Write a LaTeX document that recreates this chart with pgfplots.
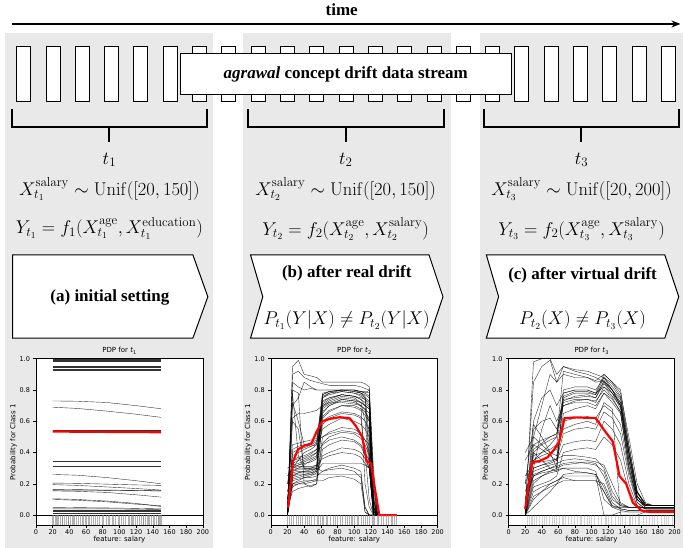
\RequirePackage{fix-cm}
\documentclass[border=0pt]{standalone}
\usepackage[no-math]{fontspec}
\setmainfont{Liberation Serif}[BoldFont={Liberation Serif Bold}, ItalicFont={Liberation Serif Italic}, BoldItalicFont={Liberation Serif Bold Italic}]
\newfontfamily\tnr{Liberation Serif}[BoldFont={Liberation Serif Bold}, ItalicFont={Liberation Serif Italic}, BoldItalicFont={Liberation Serif Bold Italic}]
\newfontfamily\dejavu{DejaVu Sans}
\usepackage{pgfplots}
\usepackage{pgfplotstable}
\pgfplotsset{compat=1.18}
\usetikzlibrary{arrows.meta}
\definecolor{panel}{RGB}{233,233,233}

% ---------- panel 1 ICE curves (rows = curves, columns = salary) ----------
\pgfplotstableread{
id 20 50 85 120 150
c1 0.995 0.995 0.995 0.995 0.995
c2 0.99 0.99 0.99 0.99 0.99
c3 0.985 0.985 0.985 0.985 0.985
c4 0.955 0.955 0.955 0.955 0.955
c5 0.948 0.948 0.948 0.948 0.948
c6 0.935 0.935 0.935 0.935 0.935
c7 0.925 0.925 0.925 0.925 0.925
c8 0.73 0.728 0.72 0.70 0.68
c9 0.69 0.682 0.665 0.645 0.625
c10 0.54 0.54 0.54 0.54 0.54
c11 0.345 0.345 0.345 0.345 0.345
c12 0.315 0.315 0.315 0.315 0.315
c13 0.26 0.255 0.24 0.22 0.20
c14 0.205 0.203 0.198 0.193 0.19
c15 0.195 0.19 0.18 0.17 0.16
c16 0.165 0.163 0.16 0.158 0.155
c17 0.155 0.152 0.145 0.13 0.115
c18 0.16 0.16 0.158 0.156 0.155
c19 0.105 0.10 0.09 0.075 0.055
c20 0.10 0.095 0.085 0.07 0.06
c21 0.05 0.048 0.046 0.043 0.04
c22 0.04 0.04 0.04 0.038 0.036
c23 0.03 0.03 0.03 0.03 0.03
c24 0.025 0.025 0.025 0.025 0.025
c25 0.012 0.012 0.012 0.012 0.012
}\rawA
\pgfplotstabletranspose[colnames from=id,input colnames to=x]\tabA\rawA

% ---------- panel 2 ICE curves ----------
\pgfplotstableread{
id 20 26 33 40 48 55 62 70 85 100 108 113 118 123 128 150
c1 0.00 0.95 0.99 0.90 0.89 0.88 0.85 0.85 0.85 0.85 0.85 0.84 0.82 0.30 0.00 0.00
c2 0.00 0.85 0.82 0.80 0.81 0.80 0.80 0.80 0.80 0.80 0.79 0.78 0.80 0.25 0.00 0.00
c3 0.05 0.78 0.38 0.30 0.30 0.32 0.75 0.78 0.80 0.79 0.78 0.76 0.50 0.10 0.00 0.00
c4 0.00 0.72 0.60 0.45 0.44 0.45 0.77 0.79 0.80 0.80 0.78 0.75 0.40 0.05 0.00 0.00
c5 0.10 0.30 0.35 0.40 0.42 0.45 0.72 0.75 0.77 0.76 0.74 0.70 0.35 0.05 0.00 0.00
c6 0.15 0.28 0.30 0.30 0.30 0.31 0.70 0.73 0.76 0.75 0.72 0.60 0.30 0.00 0.00 0.00
c7 0.20 0.25 0.27 0.28 0.28 0.30 0.68 0.71 0.74 0.73 0.70 0.20 0.05 0.00 0.00 0.00
c8 0.25 0.30 0.32 0.34 0.36 0.38 0.75 0.77 0.79 0.78 0.77 0.75 0.73 0.10 0.00 0.00
c9 0.05 0.20 0.22 0.24 0.25 0.27 0.62 0.66 0.70 0.70 0.68 0.66 0.62 0.05 0.00 0.00
c10 0.00 0.40 0.42 0.43 0.45 0.47 0.78 0.79 0.80 0.80 0.79 0.79 0.78 0.20 0.00 0.00
c11 0.00 0.62 0.65 0.65 0.66 0.67 0.70 0.72 0.72 0.71 0.70 0.68 0.65 0.05 0.00 0.00
c12 0.10 0.35 0.37 0.38 0.40 0.42 0.55 0.58 0.62 0.60 0.58 0.55 0.50 0.02 0.00 0.00
c13 0.00 0.18 0.20 0.20 0.21 0.22 0.50 0.53 0.56 0.55 0.52 0.48 0.40 0.00 0.00 0.00
c14 0.05 0.15 0.17 0.18 0.19 0.20 0.42 0.45 0.48 0.47 0.44 0.38 0.30 0.02 0.00 0.00
c15 0.00 0.30 0.31 0.31 0.31 0.32 0.36 0.38 0.40 0.39 0.37 0.33 0.30 0.01 0.00 0.00
c16 0.00 0.26 0.27 0.27 0.27 0.28 0.33 0.33 0.33 0.33 0.33 0.32 0.30 0.00 0.00 0.00
c17 0.02 0.20 0.21 0.22 0.22 0.22 0.22 0.24 0.25 0.23 0.20 0.02 0.00 0.00 0.00 0.00
c18 0.00 0.25 0.26 0.26 0.26 0.26 0.26 0.26 0.26 0.26 0.26 0.02 0.00 0.00 0.00 0.00
c19 0.00 0.28 0.29 0.29 0.30 0.30 0.28 0.30 0.32 0.30 0.28 0.05 0.00 0.00 0.00 0.00
c20 0.10 0.38 0.40 0.42 0.44 0.46 0.60 0.63 0.66 0.65 0.63 0.60 0.55 0.05 0.00 0.00
c21 0.20 0.45 0.46 0.47 0.48 0.49 0.73 0.75 0.77 0.76 0.75 0.74 0.72 0.10 0.00 0.00
c22 0.00 0.80 0.78 0.20 0.18 0.20 0.65 0.70 0.74 0.73 0.72 0.70 0.68 0.05 0.00 0.00
c23 0.00 0.70 0.75 0.85 0.82 0.80 0.80 0.80 0.80 0.79 0.78 0.77 0.75 0.15 0.00 0.00
c24 0.30 0.32 0.33 0.35 0.37 0.40 0.45 0.48 0.50 0.48 0.45 0.40 0.35 0.02 0.00 0.00
c25 0.00 0.23 0.24 0.25 0.26 0.28 0.38 0.40 0.43 0.42 0.40 0.36 0.30 0.00 0.00 0.00
c26 0.05 0.27 0.28 0.28 0.29 0.29 0.58 0.62 0.65 0.64 0.62 0.40 0.10 0.00 0.00 0.00
c27 0.00 0.33 0.35 0.36 0.38 0.40 0.69 0.72 0.75 0.74 0.72 0.70 0.68 0.03 0.00 0.00
c28 0.10 0.22 0.23 0.24 0.24 0.25 0.28 0.29 0.30 0.28 0.24 0.05 0.00 0.00 0.00 0.00
c29 0.00 0.60 0.55 0.30 0.29 0.30 0.76 0.78 0.79 0.78 0.76 0.74 0.70 0.08 0.00 0.00
c30 0.00 0.42 0.44 0.45 0.46 0.48 0.50 0.52 0.54 0.53 0.51 0.48 0.45 0.02 0.00 0.00
c31 0.15 0.29 0.30 0.32 0.35 0.37 0.66 0.70 0.73 0.72 0.70 0.67 0.60 0.03 0.00 0.00
c32 0.00 0.24 0.25 0.26 0.27 0.29 0.71 0.74 0.77 0.76 0.74 0.72 0.69 0.07 0.00 0.00
c33 0.00 0.90 0.92 0.88 0.86 0.85 0.84 0.83 0.83 0.83 0.82 0.81 0.80 0.20 0.00 0.00
c34 0.00 0.35 0.36 0.37 0.39 0.42 0.63 0.67 0.70 0.69 0.67 0.64 0.60 0.04 0.00 0.00
c35 0.08 0.19 0.20 0.21 0.22 0.23 0.46 0.50 0.53 0.52 0.49 0.45 0.38 0.01 0.00 0.00
c36 0.00 0.31 0.32 0.33 0.34 0.36 0.77 0.79 0.80 0.80 0.79 0.78 0.76 0.12 0.00 0.00
}\rawB
\pgfplotstabletranspose[colnames from=id,input colnames to=x]\tabB\rawB

% ---------- panel 3 ICE curves ----------
\pgfplotstableread{
id 20 30 40 50 58 66 80 95 105 115 125 135 145 155 165 175 200
c1 0.00 0.98 1.00 1.00 0.90 0.95 0.93 0.92 0.90 0.88 0.80 0.70 0.40 0.15 0.07 0.06 0.06
c2 0.05 0.85 0.95 0.99 0.85 0.90 0.88 0.88 0.86 0.90 0.85 0.78 0.50 0.20 0.08 0.06 0.06
c3 0.20 0.58 0.50 0.40 0.30 0.80 0.82 0.82 0.80 0.88 0.82 0.75 0.45 0.15 0.06 0.06 0.06
c4 0.00 0.40 0.35 0.30 0.28 0.75 0.78 0.78 0.77 0.85 0.80 0.70 0.35 0.12 0.06 0.06 0.06
c5 0.35 0.45 0.42 0.38 0.35 0.72 0.74 0.74 0.73 0.80 0.75 0.66 0.30 0.10 0.05 0.05 0.05
c6 0.00 0.20 0.25 0.28 0.30 0.32 0.33 0.34 0.33 0.25 0.10 0.06 0.05 0.05 0.05 0.05 0.05
c7 0.10 0.25 0.27 0.28 0.29 0.30 0.30 0.30 0.28 0.10 0.05 0.05 0.05 0.05 0.05 0.05 0.05
c8 0.00 0.30 0.55 0.70 0.60 0.70 0.72 0.72 0.70 0.78 0.72 0.65 0.30 0.10 0.06 0.06 0.06
c9 0.00 0.10 0.15 0.20 0.22 0.25 0.25 0.25 0.25 0.00 0.00 0.02 0.02 0.02 0.02 0.02 0.02
c10 0.00 0.15 0.18 0.20 0.22 0.24 0.22 0.22 0.22 0.15 0.05 0.03 0.02 0.02 0.02 0.02 0.02
c11 0.40 0.50 0.45 0.40 0.38 0.60 0.62 0.63 0.62 0.70 0.66 0.58 0.28 0.08 0.04 0.04 0.04
c12 0.00 0.35 0.38 0.40 0.42 0.55 0.58 0.60 0.58 0.72 0.68 0.00 0.00 0.00 0.02 0.02 0.02
c13 0.05 0.30 0.32 0.33 0.35 0.45 0.47 0.48 0.47 0.60 0.55 0.45 0.20 0.06 0.04 0.04 0.04
c14 0.00 0.60 0.75 0.80 0.70 0.78 0.80 0.80 0.78 0.82 0.76 0.70 0.38 0.12 0.06 0.06 0.06
c15 0.20 0.35 0.40 0.45 0.50 0.92 0.90 0.88 0.85 0.86 0.80 0.72 0.40 0.15 0.07 0.06 0.06
c16 0.00 0.22 0.25 0.27 0.28 0.30 0.28 0.27 0.26 0.15 0.06 0.05 0.05 0.05 0.05 0.05 0.05
c17 0.05 0.28 0.30 0.32 0.33 0.35 0.36 0.35 0.34 0.32 0.20 0.08 0.05 0.05 0.05 0.05 0.05
c18 0.00 0.45 0.48 0.50 0.52 0.70 0.73 0.74 0.72 0.82 0.78 0.68 0.35 0.10 0.06 0.06 0.06
c19 0.00 0.05 0.10 0.15 0.20 0.22 0.22 0.22 0.22 0.20 0.08 0.04 0.03 0.03 0.03 0.03 0.03
c20 0.10 0.40 0.45 0.48 0.50 0.78 0.80 0.80 0.78 0.90 0.85 0.80 0.45 0.15 0.07 0.06 0.06
c21 0.00 0.55 0.60 0.62 0.55 0.74 0.75 0.76 0.75 0.84 0.78 0.72 0.40 0.12 0.06 0.06 0.06
c22 0.00 0.18 0.20 0.22 0.25 0.40 0.42 0.43 0.42 0.50 0.45 0.35 0.15 0.06 0.04 0.04 0.04
c23 0.25 0.33 0.34 0.35 0.36 0.38 0.38 0.37 0.36 0.30 0.15 0.07 0.05 0.05 0.05 0.05 0.05
c24 0.00 0.50 0.70 0.90 0.85 0.95 0.92 0.90 0.88 0.85 0.78 0.70 0.35 0.12 0.06 0.06 0.06
c25 0.00 0.25 0.28 0.30 0.32 0.65 0.68 0.70 0.68 0.78 0.74 0.66 0.32 0.10 0.05 0.05 0.05
c26 0.15 0.30 0.32 0.34 0.36 0.52 0.55 0.56 0.55 0.66 0.62 0.52 0.25 0.08 0.04 0.04 0.04
c27 0.00 0.12 0.15 0.18 0.20 0.26 0.27 0.27 0.26 0.18 0.06 0.04 0.03 0.03 0.03 0.03 0.03
c28 0.00 0.38 0.40 0.42 0.45 0.76 0.79 0.79 0.77 0.88 0.84 0.76 0.42 0.14 0.07 0.06 0.06
c29 0.05 0.26 0.28 0.30 0.31 0.33 0.34 0.33 0.32 0.28 0.12 0.06 0.05 0.05 0.05 0.05 0.05
c30 0.00 0.42 0.46 0.50 0.52 0.73 0.76 0.77 0.75 0.86 0.80 0.74 0.40 0.12 0.06 0.06 0.06
}\rawC
\pgfplotstabletranspose[colnames from=id,input colnames to=x]\tabC\rawC

\pgfplotsset{
  pdp/.style={
    scale only axis, width=167pt, height=167pt,
    xmin=0, xmax=200, ymin=-0.067, ymax=1.0,
    xtick={0,20,...,200}, ytick={0,0.2,0.4,0.6,0.8,1.0},
    yticklabel style={/pgf/number format/.cd, fixed, fixed zerofill, precision=1},
    /pgf/number format/assume math mode=true,
    tick label style={font=\dejavu\fontsize{6.5}{7}\selectfont},
    label style={font=\dejavu\fontsize{7}{8}\selectfont},
    title style={font=\dejavu\fontsize{7}{8}\selectfont, yshift=-5pt},
    xlabel={feature: salary}, ylabel={Probability for Class 1},
    xlabel style={yshift=5pt}, ylabel style={yshift=-4pt},
    xticklabel style={yshift=2pt},
    tick align=outside, tick pos=left, major tick length=2.5pt,
    axis line style={line width=0.5pt}, every tick/.style={black, line width=0.5pt},
    axis background/.style={fill=white},
    anchor=north west, clip=true,
  },
  ice/.style={black, line width=0.4pt, opacity=0.8},
  pdpline/.style={red, line width=2.2pt},
  rug/.style={only marks, mark=|, mark size=5pt, mark options={line width=0.35pt, draw=gray, opacity=0.6}},
}
\newcommand{\boldsz}{\tnr\fontsize{17}{20}\selectfont\bfseries}
\newcommand{\mathsz}{\fontsize{18.5}{22}\selectfont}

\begin{document}
\begin{tikzpicture}
\begin{scope}[x=1pt,y=-1pt]
\useasboundingbox (0,0) rectangle (684,548);
% grey panels
\fill[panel] (5,33) rectangle (213,548);
\fill[panel] (243,33) rectangle (451,548);
\fill[panel] (480,33) rectangle (684,548);
% time arrow
\draw[line width=1.2pt, -{Stealth[length=9pt,width=7pt]}] (12,24) -- (681,24);
\node[font=\boldsz] at (342,10) {time};
% stream of rectangles
\foreach \k in {0,...,22} {
  \draw[fill=white, line width=0.9pt] ({16.7+29.33*\k},46) rectangle ++(14,56);
}
\draw[fill=white, line width=1.1pt] (180.7,53.3) rectangle (511.7,95);
\node[font=\boldsz] at (346,74) {\textit{agrawal} concept drift data stream};
% brackets
\foreach \L/\R in {11.7/207.3, 248.3/444, 484.3/679.3} {
  \draw[line width=2pt] (\L,109.3) -- (\L,126.7) -- (\R,126.7) -- (\R,109.3);
  \draw[line width=2pt] ({(\L+\R)/2},126.7) -- ({(\L+\R)/2},141.7);
}
% formulas
\begin{scope}[every node/.style={font=\mathsz}]
\node at (109.5,160) {$t_1$};
\node at (346,160) {$t_2$};
\node at (582,160) {$t_3$};
\node at (109.5,189) {$X_{t_1}^{\mathrm{salary}} \sim \mathrm{Unif}([20,150])$};
\node at (346,189) {$X_{t_2}^{\mathrm{salary}} \sim \mathrm{Unif}([20,150])$};
\node at (582,189) {$X_{t_3}^{\mathrm{salary}} \sim \mathrm{Unif}([20,200])$};
\node at (109.5,229) {$Y_{t_1} = f_1(X_{t_1}^{\mathrm{age}}, X_{t_1}^{\mathrm{education}})$};
\node at (346,229) {$Y_{t_2} = f_2(X_{t_2}^{\mathrm{age}}, X_{t_2}^{\mathrm{salary}})$};
\node at (582,229) {$Y_{t_3} = f_2(X_{t_3}^{\mathrm{age}}, X_{t_3}^{\mathrm{salary}})$};
\end{scope}
% chevrons
\draw[fill=white, line width=1pt] (12.7,255) -- (193,255) -- (208,297) -- (193,338.5) -- (12.7,338.5) -- cycle;
\draw[fill=white, line width=1pt] (250.7,255) -- (429.3,255) -- (443.3,297) -- (429.3,338.5) -- (250.7,338.5) -- (263,297) -- cycle;
\draw[fill=white, line width=1pt] (486.7,255) -- (665.3,255) -- (679.3,297) -- (665.3,338.5) -- (486.7,338.5) -- (499,297) -- cycle;
\node[font=\boldsz] at (110,298) {(a) initial setting};
\node[font=\boldsz] at (347,274) {(b) after real drift};
\node[font=\mathsz] at (347,320) {$P_{t_1}(Y|X) \neq P_{t_2}(Y|X)$};
\node[font=\boldsz] at (583,276) {(c) after virtual drift};
\node[font=\mathsz] at (583,320) {$P_{t_2}(X) \neq P_{t_3}(X)$};
\end{scope}

% ---------- PDP t1 ----------
\begin{axis}[pdp, at={(36pt,-359pt)}, title={PDP for \textit{t}\raisebox{-0.4ex}{\fontsize{5}{5}\selectfont 1}}]
\addplot[rug] coordinates {(20,-0.0335)(21,-0.0335)(23,-0.0335)(24,-0.0335)(26,-0.0335)(27,-0.0335)(29,-0.0335)(31,-0.0335)(32,-0.0335)(34,-0.0335)(36,-0.0335)(38,-0.0335)(39,-0.0335)(41,-0.0335)(43,-0.0335)(46,-0.0335)(48,-0.0335)(50,-0.0335)(53,-0.0335)(55,-0.0335)(57,-0.0335)(59,-0.0335)(62,-0.0335)(64,-0.0335)(66,-0.0335)(69,-0.0335)(71,-0.0335)(73,-0.0335)(76,-0.0335)(79,-0.0335)(81,-0.0335)(84,-0.0335)(86,-0.0335)(88,-0.0335)(91,-0.0335)(93,-0.0335)(95,-0.0335)(98,-0.0335)(100,-0.0335)(102,-0.0335)(105,-0.0335)(107,-0.0335)(110,-0.0335)(112,-0.0335)(114,-0.0335)(117,-0.0335)(119,-0.0335)(121,-0.0335)(124,-0.0335)(126,-0.0335)(128,-0.0335)(131,-0.0335)(133,-0.0335)(136,-0.0335)(138,-0.0335)(140,-0.0335)(142,-0.0335)(144,-0.0335)(146,-0.0335)(148,-0.0335)(150,-0.0335)(149,-0.0335)(147,-0.0335)(135,-0.0335)(129,-0.0335)(115,-0.0335)(60,-0.0335)(44,-0.0335)};
\addplot[black, line width=0.5pt] coordinates {(0,0) (200,0)};
\pgfplotsinvokeforeach{1,...,25}{\addplot[ice] table[x=x,y=c#1]{\tabA};}
\addplot[pdpline] coordinates {(20,0.535)(50,0.533)(85,0.532)(120,0.531)(150,0.53)};
\end{axis}

% ---------- PDP t2 ----------
\begin{axis}[pdp, at={(271pt,-359pt)}, title={PDP for \textit{t}\raisebox{-0.4ex}{\fontsize{5}{5}\selectfont 2}}]
\addplot[rug] coordinates {(20,-0.0335)(22,-0.0335)(25,-0.0335)(27,-0.0335)(30,-0.0335)(33,-0.0335)(35,-0.0335)(38,-0.0335)(41,-0.0335)(44,-0.0335)(46,-0.0335)(49,-0.0335)(52,-0.0335)(55,-0.0335)(57,-0.0335)(59,-0.0335)(62,-0.0335)(66,-0.0335)(68,-0.0335)(71,-0.0335)(75,-0.0335)(77,-0.0335)(80,-0.0335)(83,-0.0335)(86,-0.0335)(89,-0.0335)(92,-0.0335)(94,-0.0335)(97,-0.0335)(100,-0.0335)(103,-0.0335)(105,-0.0335)(108,-0.0335)(111,-0.0335)(113,-0.0335)(116,-0.0335)(118,-0.0335)(121,-0.0335)(124,-0.0335)(127,-0.0335)(129,-0.0335)(132,-0.0335)(135,-0.0335)(138,-0.0335)(141,-0.0335)(144,-0.0335)(146,-0.0335)(148,-0.0335)(150,-0.0335)(63,-0.0335)(96,-0.0335)(123,-0.0335)};
\addplot[black, line width=0.5pt] coordinates {(0,0) (200,0)};
\pgfplotsinvokeforeach{1,...,36}{\addplot[ice] table[x=x,y=c#1]{\tabB};}
\addplot[pdpline] coordinates {(20.7,0.047)(26.7,0.345)(32.7,0.42)(40.6,0.445)(48.6,0.457)(54.6,0.53)(61.8,0.60)(70.5,0.615)(82.5,0.626)(94.4,0.62)(102,0.57)(109.6,0.50)(115,0.345)(120.3,0.33)(123.5,0.21)(130,0)(151,0)};
\end{axis}

% ---------- PDP t3 ----------
\begin{axis}[pdp, width=166pt, at={(509pt,-359pt)}, title={PDP for \textit{t}\raisebox{-0.4ex}{\fontsize{5}{5}\selectfont 3}}]
\addplot[rug, mark options={line width=0.35pt, draw=gray, opacity=0.35}] coordinates {(22,-0.0335)(25,-0.0335)(28,-0.0335)(33,-0.0335)(37,-0.0335)(41,-0.0335)(45,-0.0335)(49,-0.0335)(52,-0.0335)(57,-0.0335)(61,-0.0335)(64,-0.0335)(68,-0.0335)(72,-0.0335)(75,-0.0335)(79,-0.0335)(83,-0.0335)(88,-0.0335)(91,-0.0335)(95,-0.0335)(99,-0.0335)(103,-0.0335)(108,-0.0335)(112,-0.0335)(116,-0.0335)(120,-0.0335)(124,-0.0335)(128,-0.0335)(132,-0.0335)(137,-0.0335)(141,-0.0335)(145,-0.0335)(149,-0.0335)(153,-0.0335)(158,-0.0335)(162,-0.0335)(166,-0.0335)(170,-0.0335)(175,-0.0335)(179,-0.0335)(184,-0.0335)(188,-0.0335)(193,-0.0335)(197,-0.0335)(27,-0.0335)(31,-0.0335)(43,-0.0335)(55,-0.0335)(66,-0.0335)(86,-0.0335)(97,-0.0335)(118,-0.0335)(134,-0.0335)(147,-0.0335)(156,-0.0335)(173,-0.0335)(190,-0.0335)};
\addplot[black, line width=0.5pt] coordinates {(0,0) (200,0)};
\pgfplotsinvokeforeach{1,...,30}{\addplot[ice] table[x=x,y=c#1]{\tabC};}
\addplot[pdpline] coordinates {(20,0.04)(28.5,0.34)(37,0.345)(47,0.37)(55,0.42)(61,0.47)(67.5,0.62)(81.5,0.625)(105,0.62)(113.6,0.555)(125.7,0.47)(133.7,0.25)(141.8,0.2)(149.8,0.08)(160,0.03)(170,0.02)(200,0.02)};
\end{axis}
\end{tikzpicture}
\end{document}
